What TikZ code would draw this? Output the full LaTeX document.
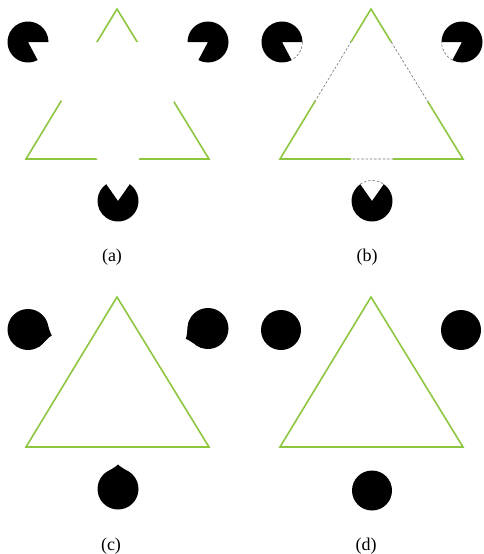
\documentclass[tikz,border=0pt]{standalone}
\usepackage{fontspec}
\setmainfont{Liberation Serif}
\usetikzlibrary{calc}
\definecolor{kgreen}{RGB}{141,198,63}

% pacman: centre, start and end angle of the mouth
\newcommand{\pacman}[3]{\fill #1 -- ++(#3:20.5) arc[start angle=#3, end angle={#2+360}, radius=20.5] -- cycle;}
% dashed rim over the mouth
\newcommand{\mouthrim}[3]{\draw[hidden] #1 ++(#2:20.5) arc[start angle=#2, end angle=#3, radius=20.5];}
% filled disc with a small tip
\newcommand{\blob}[2]{\fill #1 circle[radius=20.5];
  \fill ($#1+({#2-45}:20.5)$) .. controls ($#1+({#2-22}:21)$) and ($#1+({#2-6}:22)$) .. ($#1+(#2:24.5)$)
    .. controls ($#1+({#2+6}:22)$) and ($#1+({#2+22}:21)$) .. ($#1+({#2+45}:20.5)$) -- #1 -- cycle;}

\begin{document}
\begin{tikzpicture}[
    x=1pt, y=-1pt,
    edge/.style={draw=kgreen, line width=1.6pt},
    hidden/.style={draw=black!55, line width=0.6pt, dash pattern=on 2.5pt off 1.8pt},
    lbl/.style={inner sep=0pt, font=\fontsize{18}{20}\selectfont}
]
\useasboundingbox (0,0) rectangle (484,554);

% (a) Kanizsa figure
\begin{scope}
  \coordinate (al) at (28,42); \coordinate (ar) at (208,42); \coordinate (ab) at (118,201);
  \begin{scope}[even odd rule]
    \clip (-5,-5) rectangle (245,245) (26,42) -- (210,42) -- (118,194) -- cycle;
    \draw[edge] (117,9) -- (209,159) -- (26,159) -- cycle;
  \end{scope}
  \pacman{(al)}{0}{62}
  \pacman{(ar)}{118}{180}
  \pacman{(ab)}{235}{305}
  \node[lbl] (capa) at (112,257) {(a)};
\end{scope}

% (b) occluded parts shown dashed
\begin{scope}[shift={(254,0)}]
  \coordinate (bl) at (28,42); \coordinate (br) at (208,42); \coordinate (bb) at (118,201);
  \begin{scope}[even odd rule]
    \clip (-5,-5) rectangle (245,245) (26,42) -- (210,42) -- (118,194) -- cycle;
    \draw[edge] (117,9) -- (209,159) -- (26,159) -- cycle;
  \end{scope}
  \begin{scope}
    \clip (26,42) -- (210,42) -- (118,194) -- cycle;
    \draw[hidden] (117,9) -- (209,159) -- (26,159) -- cycle;
  \end{scope}
  \pacman{(bl)}{0}{62}
  \pacman{(br)}{118}{180}
  \pacman{(bb)}{235}{305}
  \mouthrim{(bl)}{0}{62}
  \mouthrim{(br)}{118}{180}
  \mouthrim{(bb)}{235}{305}
  \node[lbl] (capb) at (113,257) {(b)};
\end{scope}

% (c) filled-in discs
\begin{scope}[shift={(0,288)}]
  \coordinate (cl) at (28,41.5); \coordinate (cr) at (208,40.5); \coordinate (cb) at (118,201);
  \draw[edge] (117,9) -- (209,159) -- (26,159) -- cycle;
  \blob{(cl)}{14}
  \blob{(cr)}{155}
  \blob{(cb)}{270}
  \node[lbl] (capc) at (111,258) {(c)};
\end{scope}

% (d) plain discs
\begin{scope}[shift={(254,288)}]
  \coordinate (dl) at (27,42); \coordinate (dr) at (207,42); \coordinate (db) at (118,202.5);
  \draw[edge] (117,9) -- (209,159) -- (26,159) -- cycle;
  \fill (dl) circle[radius=20];
  \fill (dr) circle[radius=20];
  \fill (db) circle[radius=20];
  \node[lbl] (capd) at (112,258) {(d)};
\end{scope}
\end{tikzpicture}
\end{document}
